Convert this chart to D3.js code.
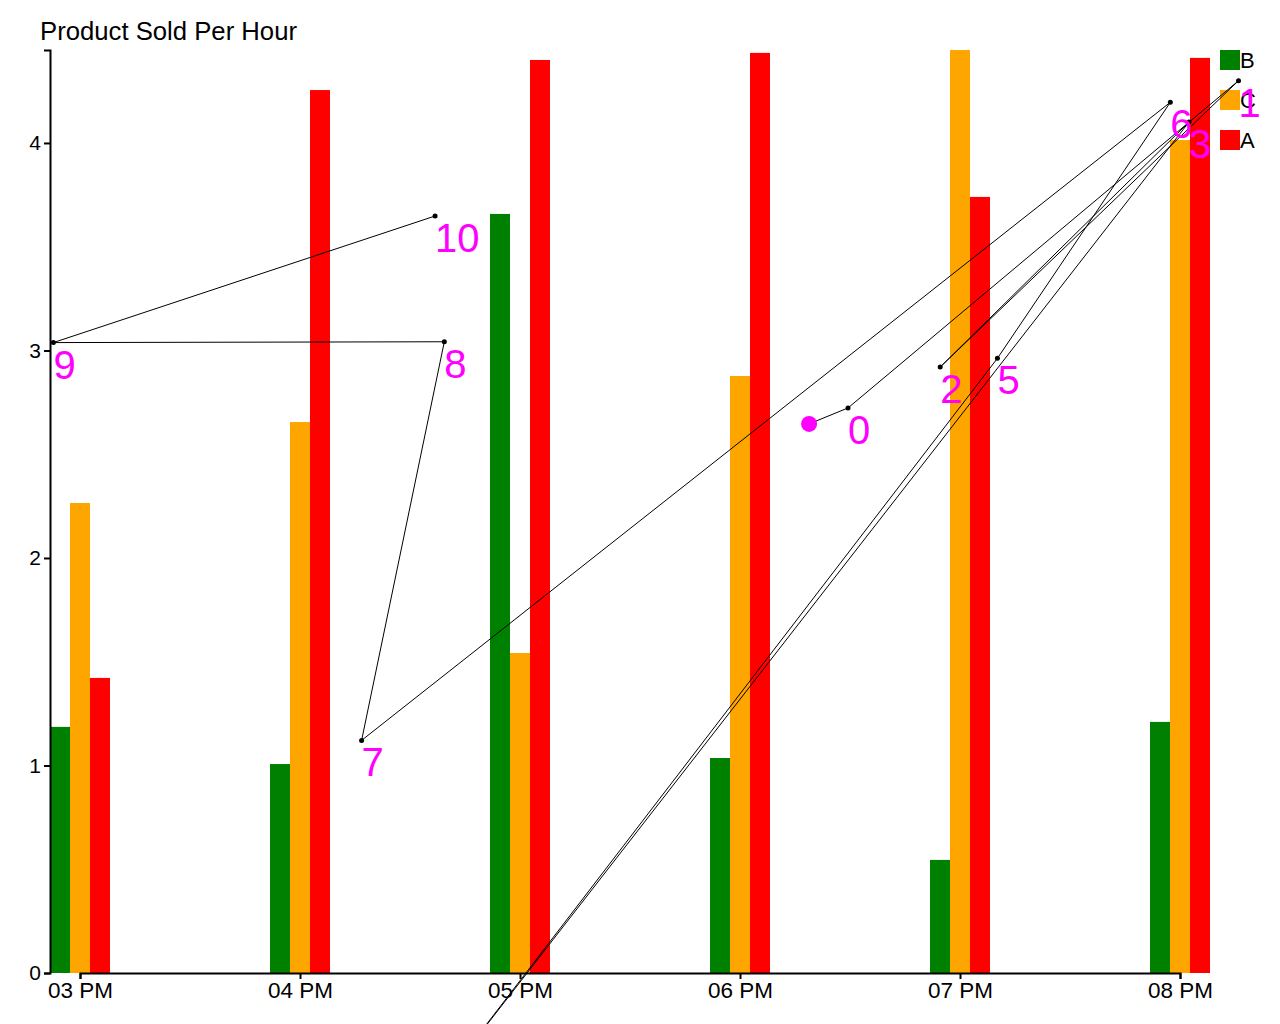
<!DOCTYPE html>
<html>
<head>
<meta charset="utf-8">
<script src="https://cdn.jsdelivr.net/npm/d3@7"></script>
<style>
  html, body { margin: 0; padding: 0; background: #fff; }
  svg { display: block; font-family: "Liberation Sans", Arial, sans-serif; }
</style>
</head>
<body>
<svg id="chart" width="1280" height="1024"></svg>
<script>
// ---- data ----
const title = "Product Sold Per Hour";
const hours = [15, 16, 17, 18, 19, 20];           // 03 PM .. 08 PM
const seriesKeys = ["B", "C", "A"];
const seriesColors = ["green", "orange", "red"];
const valuesB = [1.186, 1.007, 3.658, 1.036, 0.545, 1.210];
const valuesC = [2.265, 2.655, 1.542, 2.877, 4.448, 4.014];
const valuesA = [1.422, 4.255, 4.400, 4.434, 3.740, 4.410];
const yTickValues = [0, 1, 2, 3, 4];

// overlay path (start marker then numbered points 0..10)
const walkStartHour = 18.314;
const walkStartValue = 2.646;
const walkHours  = [18.491, 20.266, 18.910, 20.041, 16.636, 19.170, 19.956, 16.280, 16.656, 14.879, 16.614];
const walkValues = [2.723, 4.300, 2.920, 4.101, -0.540, 2.962, 4.196, 1.121, 3.042, 3.038, 3.648];

// ---- helpers ----
const base = new Date(2020, 0, 1, 0, 0, 0).getTime();
const toDate = h => new Date(base + h * 3600 * 1000);

const svg = d3.select("#chart");

const seriesValues = [valuesB, valuesC, valuesA];
const allVals = seriesValues.flat();

const x = d3.scaleTime()
  .domain([toDate(hours[0]), toDate(hours[hours.length - 1])])
  .range([80, 1180]);
const y = d3.scaleLinear()
  .domain([0, d3.max(allVals)])
  .range([973, 50]);
const sub = d3.scaleBand().domain(seriesKeys).range([-30, 30]).padding(0);

// ---- bars ----
const barG = svg.append("g");
hours.forEach((h, i) => {
  seriesKeys.forEach((k, j) => {
    const v = seriesValues[j][i];
    barG.append("rect")
      .attr("x", x(toDate(h)) + sub(k))
      .attr("y", y(v))
      .attr("width", sub.bandwidth())
      .attr("height", y(0) - y(v))
      .attr("fill", seriesColors[j]);
  });
});

// ---- axes ----
const xAxis = d3.axisBottom(x)
  .tickValues(hours.map(toDate))
  .tickFormat(d3.timeFormat("%I %p"));
const gx = svg.append("g").attr("transform", `translate(0,${y(0)})`).call(xAxis);
gx.selectAll("text").style("font-size", "22.5px").attr("fill", "#000");
gx.selectAll("path, line").attr("stroke", "#000").attr("stroke-width", 2);

const yAxis = d3.axisLeft(y).tickValues(yTickValues).tickFormat(d3.format("d"));
const gy = svg.append("g").attr("transform", "translate(50,0)").call(yAxis);
gy.selectAll("text").style("font-size", "21px").attr("fill", "#000");
gy.selectAll("path, line").attr("stroke", "#000").attr("stroke-width", 2);
gx.attr("font-family", null);
gy.attr("font-family", null);

// ---- title ----
svg.append("text")
  .attr("x", 40).attr("y", 39.5)
  .style("font-size", "25.7px")
  .attr("fill", "#000")
  .text(title);

// ---- legend ----
const leg = svg.append("g");
seriesKeys.forEach((k, j) => {
  const yy = 50 + j * 40;
  leg.append("rect").attr("x", 1220).attr("y", yy).attr("width", 20).attr("height", 20)
    .attr("fill", seriesColors[j]);
  leg.append("text").attr("x", 1240).attr("y", yy + 10).attr("dy", "0.35em")
    .style("font-size", "22px").attr("fill", "#000").text(k);
});

// ---- overlay path ----
const pts = walkHours.map((h, i) => [x(toDate(h)), y(walkValues[i])]);
const startPt = [x(toDate(walkStartHour)), y(walkStartValue)];
const ov = svg.append("g");
ov.append("path")
  .attr("d", d3.line()([startPt, ...pts]))
  .attr("fill", "none").attr("stroke", "#000").attr("stroke-width", 1);
ov.append("circle").attr("cx", startPt[0]).attr("cy", startPt[1]).attr("r", 8).attr("fill", "magenta");
pts.forEach((p, i) => {
  ov.append("circle").attr("cx", p[0]).attr("cy", p[1]).attr("r", 2.5).attr("fill", "#000");
  ov.append("text").attr("x", p[0]).attr("y", p[1]).attr("dy", "0.9em")
    .style("font-size", "40px").attr("fill", "magenta").text(i);
});
</script>
</body>
</html>
